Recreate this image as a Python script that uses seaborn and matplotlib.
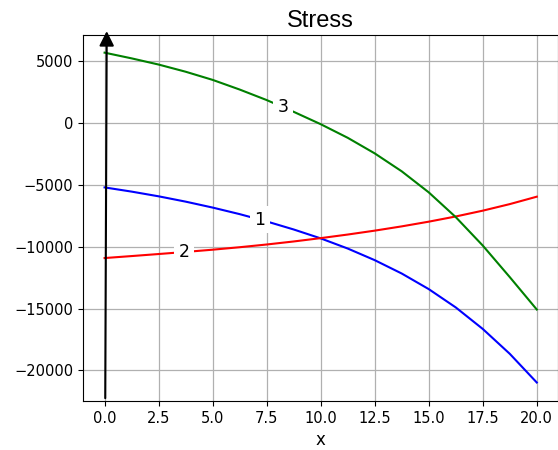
import numpy as np
import pandas as pd
import seaborn as sns
from matplotlib import pyplot as plt


# values
X_VALUES = [0, 1.25, 2.5, 3.75, 5, 6.25, 7.5, 8.75, 10,
            11.25, 12.5, 13.75, 15, 16.25, 17.5, 18.75, 20]
STRESS_1 = [-5210, -5550, -5930, -6360, -6840, -7370, -7960, -8610, -9330,
            -10150, -11090, -12170, -13430, -14910, -16650, -18660, -20980]
STRESS_2 = [-10920, -10760, -10595, -10425, -10245, -10045, -9825, -9580, -9310,
            -9020, -8705, -8360, -7980, -7560, -7090, -6560, -5960]
STRESS_3 = [5680, 5220, 4720, 4140, 3480, 2700, 1850, 900, -100,
            -1200, -2460, -3910, -5610, -7610, -9910, -12460, -15080]
CURVE_NAMES = ["1", "2", "3"]
CURVE_COLORS = ["blue", "red", "green"]
LABEL_X = [7.18, 3.68, 8.27]

TITLE = "Stress"
X_LABEL = "x"


def build_frame() -> pd.DataFrame:
    rows = []
    for name, values in zip(CURVE_NAMES, [STRESS_1, STRESS_2, STRESS_3]):
        for x, y in zip(X_VALUES, values):
            rows.append({"x": x, "stress": y, "curve": name})
    return pd.DataFrame(rows)


def main() -> None:
    df = build_frame()

    fig = plt.figure(figsize=(5.58, 4.5), dpi=100)
    ax = fig.add_axes([0.1487, 0.109, 0.852, 0.813])

    sns.lineplot(
        data=df,
        x="x",
        y="stress",
        hue="curve",
        palette=dict(zip(CURVE_NAMES, CURVE_COLORS)),
        legend=False,
        linewidth=1.5,
        ax=ax,
    )

    ax.set_xlim(-1, 21)
    ax.set_ylim(-22470, 7100)
    ax.set_xticks(np.arange(0, 20.1, 2.5))
    ax.set_yticks(np.arange(-20000, 5001, 5000))
    ax.grid(True, color="#b0b0b0", linewidth=0.9)
    ax.set_axisbelow(True)
    ax.tick_params(labelsize=10.5)
    ax.set_ylabel("")
    ax.set_xlabel(X_LABEL, fontsize=12)
    ax.set_title(TITLE, fontsize=17, family=["Liberation Sans", "DejaVu Sans"])

    # inline labels on the curves
    for name, values, lx in zip(CURVE_NAMES, [STRESS_1, STRESS_2, STRESS_3], LABEL_X):
        ly = np.interp(lx, X_VALUES, values)
        ax.text(
            lx, ly, name, fontsize=12.5, ha="center", va="center",
            bbox=dict(boxstyle="square,pad=0.25", fc="white", ec="none"),
            zorder=5,
        )

    # vertical arrow at x = 0
    ax.annotate(
        "",
        xy=(0.1, 7650),
        xytext=(0.03, -22470),
        arrowprops=dict(arrowstyle="-|>", color="black", lw=1.5, mutation_scale=22),
        annotation_clip=False,
        zorder=6,
    )

    fig.savefig("out.png", dpi=100)


if __name__ == "__main__":
    main()
